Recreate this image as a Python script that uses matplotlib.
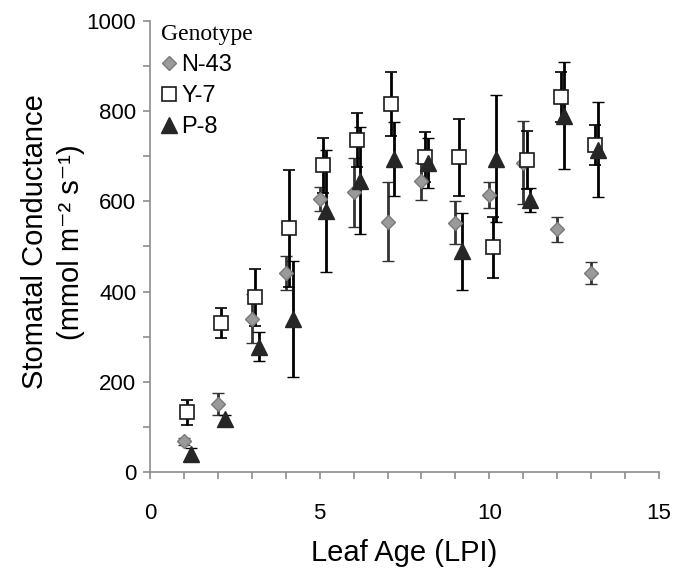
import numpy as np
import matplotlib
matplotlib.use("Agg")
import matplotlib.pyplot as plt
from matplotlib.lines import Line2D
from matplotlib.ticker import MultipleLocator

plt.rcParams['font.family'] = ['Liberation Sans', 'DejaVu Sans']

# leaf age (LPI)
lpi = np.arange(1, 14)

# stomatal conductance means and error bars per genotype
n43_mean = [68, 151, 340, 441, 605, 620, 555, 645, 553, 614, 686, 538, 441]
n43_err = [8, 25, 54, 38, 26, 77, 88, 41, 47, 29, 92, 27, 24]

y7_mean = [132, 331, 387, 540, 680, 737, 816, 699, 698, 498, 691, 831, 725]
y7_err = [27, 33, 63, 130, 61, 60, 70, 55, 85, 67, 64, 55, 44]

p8_mean = [40, 117, 278, 339, 578, 646, 695, 685, 489, 695, 603, 790, 715]
p8_err = [14, 10, 33, 129, 135, 118, 82, 56, 86, 140, 26, 118, 106]

fig = plt.figure(figsize=(6.77, 5.69), dpi=100)
ax = fig.add_axes([0.2216, 0.1705, 0.7518, 0.7926])

# N-43 grey diamonds
ax.errorbar(lpi, n43_mean, yerr=n43_err, fmt='D', ms=7.5,
            mfc='#9a9a9a', mec='#7a7a7a', mew=1.0,
            ecolor='#333333', elinewidth=2.0, capsize=4, capthick=2.0)
# Y-7 open squares
ax.errorbar(lpi + 0.1, y7_mean, yerr=y7_err, fmt='s', ms=10,
            mfc='white', mec='#1a1a1a', mew=1.2,
            ecolor='black', elinewidth=2.0, capsize=4, capthick=2.0)
# P-8 dark triangles
ax.errorbar(lpi + 0.2, p8_mean, yerr=p8_err, fmt='^', ms=11.5,
            mfc='#262626', mec='#262626', mew=1.0,
            ecolor='black', elinewidth=2.0, capsize=4, capthick=2.0)

ax.set_xlim(0, 15)
ax.set_ylim(0, 1000)
ax.xaxis.set_major_locator(MultipleLocator(5))
ax.xaxis.set_minor_locator(MultipleLocator(1))
ax.yaxis.set_major_locator(MultipleLocator(200))
ax.yaxis.set_minor_locator(MultipleLocator(100))

for s in ['top', 'right']:
    ax.spines[s].set_visible(False)
for s in ['left', 'bottom']:
    ax.spines[s].set_color('#8c8c8c')
    ax.spines[s].set_linewidth(1.2)
ax.tick_params(which='both', direction='out', length=5, width=1.2,
               color='#8c8c8c', labelsize=16)
ax.tick_params(axis='x', pad=17)
ax.tick_params(axis='y', pad=5)

ax.set_xlabel('Leaf Age (LPI)', fontsize=21, labelpad=11)
ax.set_ylabel('Stomatal Conductance\n(mmol m\u207b\u00b2 s\u207b\u00b9)',
              fontsize=21, linespacing=1.35, va='center')
ax.yaxis.set_label_coords(-0.19, 0.51)

handles = [
    Line2D([], [], ls='none', marker='D', ms=7.5, mfc='#9a9a9a', mec='#7a7a7a'),
    Line2D([], [], ls='none', marker='s', ms=10, mfc='white', mec='#1a1a1a', mew=1.2),
    Line2D([], [], ls='none', marker='^', ms=11.5, mfc='#262626', mec='#262626'),
]
leg = ax.legend(handles, ['N-43', 'Y-7', 'P-8'], title='Genotype',
                loc='upper left', bbox_to_anchor=(-0.01, 1.03), frameon=False,
                fontsize=17, handlelength=0.6, handletextpad=0.25,
                labelspacing=0.38, borderpad=0.2,
                title_fontproperties={'family': 'Liberation Serif', 'size': 17})
leg._legend_box.align = 'left'

fig.savefig('out.png', dpi=100)
